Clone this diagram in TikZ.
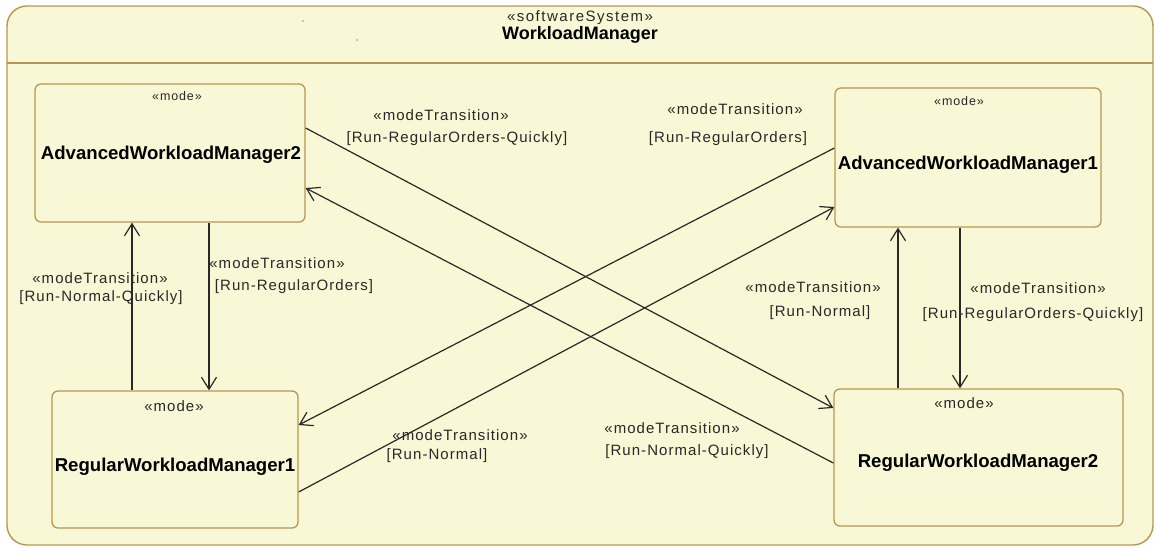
\documentclass[tikz,border=0pt]{standalone}
\usepackage{fontspec}
\setmainfont{Liberation Sans}
\newfontfamily\labfont[LetterSpace=7]{Liberation Sans}
\newfontfamily\hdfont[LetterSpace=10]{Liberation Sans}
\usetikzlibrary{arrows.meta}

\definecolor{cream}{RGB}{248,248,214}
\definecolor{goldline}{RGB}{184,150,82}
\definecolor{ink}{RGB}{40,40,40}

\tikzset{
  frame/.style={draw=goldline, fill=cream, line width=1.4pt, rounded corners=20pt},
  modebox/.style={draw=goldline, fill=cream, line width=1.3pt, rounded corners=6pt,
    inner sep=0pt, minimum width=#1},
  modebox/.default=270pt,
  stereo/.style={inner sep=0pt, text=ink, font=\labfont\fontsize{12.5}{14}\selectfont},
  bigstereo/.style={inner sep=0pt, text=ink, font=\labfont\fontsize{15}{17}\selectfont},
  modename/.style={inner sep=0pt, text=black, font=\bfseries\fontsize{18.6}{20}\selectfont},
  trlabel/.style={inner sep=0pt, text=ink, font=\labfont\fontsize{15}{17}\selectfont},
  tr/.style={draw=ink, line width=1.2pt, -{Straight Barb[length=12pt, width=15pt]}},
}

\begin{document}
\begin{tikzpicture}[x=1pt, y=-1pt]
\useasboundingbox (0,0) rectangle (1155,547);

% enclosing software system
\draw[frame] (7,6) rectangle (1153,545);
\draw[goldline, line width=1.2pt] (7,63) -- (1153,63);
\node[inner sep=0pt, text=ink, font=\hdfont\fontsize{15}{17}\selectfont] (sysstereo) at (580,18) {«softwareSystem»};
\node[inner sep=0pt, text=black, font=\bfseries\fontsize{18}{20}\selectfont] (sysname) at (580,35) {WorkloadManager};
\fill[ink] (303,21) circle (0.7pt);
\fill[ink] (357,40) circle (0.7pt);

% modes
\node[modebox=270pt, minimum height=138pt] (awm2) at (170,153) {};
\node[modebox=266pt, minimum height=139pt] (awm1) at (968,157.5) {};
\node[modebox=246pt, minimum height=137pt] (rwm1) at (175,459.5) {};
\node[modebox=289pt, minimum height=137pt] (rwm2) at (978.5,457.5) {};

\node[stereo] (awm2s) at (177,96) {«mode»};
\node[modename] (awm2n) at (171,155) {AdvancedWorkloadManager2};
\node[stereo] (awm1s) at (959,101) {«mode»};
\node[modename] (awm1n) at (968,165) {AdvancedWorkloadManager1};
\node[bigstereo] (rwm1s) at (174,406) {«mode»};
\node[modename] (rwm1n) at (175,467) {RegularWorkloadManager1};
\node[bigstereo] (rwm2s) at (964,403) {«mode»};
\node[modename] (rwm2n) at (978,463) {RegularWorkloadManager2};

% anchor points of the vertical transitions
\coordinate (p5) at ([xshift=-38pt]awm2.south);
\coordinate (p6) at ([xshift=39pt]awm2.south);
\coordinate (p7) at ([xshift=-70pt]awm1.south);
\coordinate (p8) at ([xshift=-8pt]awm1.south);

% transitions
\draw[tr] ([yshift=25pt]awm2.east) -- ([yshift=49.5pt]rwm2.west);
\draw[tr] ([yshift=-5.5pt]rwm2.west) -- ([yshift=-35pt]awm2.east);
\draw[tr] ([yshift=9.5pt]awm1.west) -- ([yshift=34.5pt]rwm1.east);
\draw[tr] ([yshift=-32.5pt]rwm1.east) -- ([yshift=-49.5pt]awm1.west);
\draw[tr] (rwm1.north -| p5) -- (p5);
\draw[tr] (p6) -- (rwm1.north -| p6);
\draw[tr] (rwm2.north -| p7) -- (p7);
\draw[tr] (p8) -- (rwm2.north -| p8);

% transition labels
\node[trlabel] (l1a) at (441,115) {«modeTransition»};
\node[trlabel] (l1b) at (457,139) {[Run-RegularOrders-Quickly]};
\node[trlabel] (l3a) at (735,109) {«modeTransition»};
\node[trlabel] (l3b) at (728,139) {[Run-RegularOrders]};
\node[trlabel] (l2a) at (672,428) {«modeTransition»};
\node[trlabel] (l2b) at (687,452) {[Run-Normal-Quickly]};
\node[trlabel] (l4a) at (460,435) {«modeTransition»};
\node[trlabel] (l4b) at (437,456) {[Run-Normal]};
\node[trlabel] (l5a) at (100,278) {«modeTransition»};
\node[trlabel] (l5b) at (101,298) {[Run-Normal-Quickly]};
\node[trlabel] (l6a) at (277,263) {«modeTransition»};
\node[trlabel] (l6b) at (294,287) {[Run-RegularOrders]};
\node[trlabel] (l7a) at (813,287) {«modeTransition»};
\node[trlabel] (l7b) at (820,313) {[Run-Normal]};
\node[trlabel] (l8a) at (1038,288) {«modeTransition»};
\node[trlabel] (l8b) at (1033,315) {[Run-RegularOrders-Quickly]};
\end{tikzpicture}
\end{document}
